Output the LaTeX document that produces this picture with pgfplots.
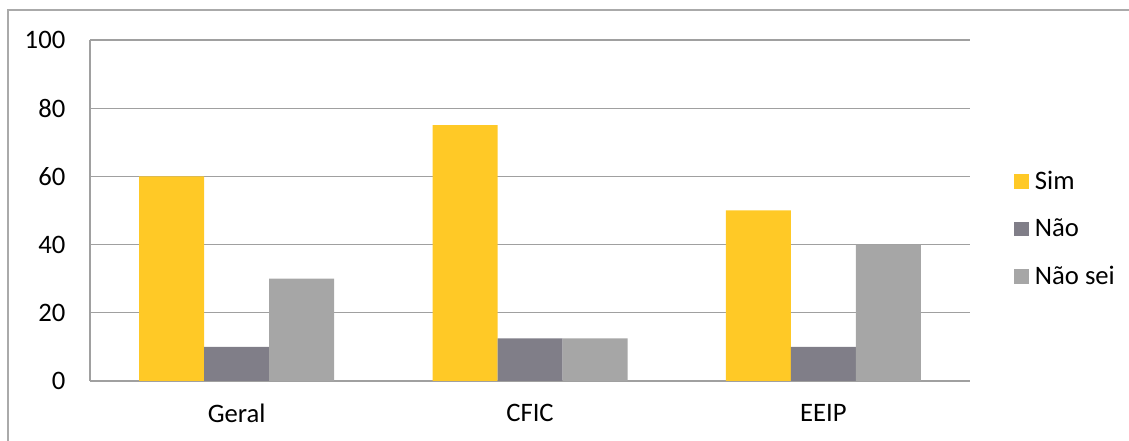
\documentclass[border=0pt]{standalone}
\usepackage{fontspec}
\setmainfont{Carlito}
\usepackage{pgfplots}
\pgfplotsset{compat=1.18}

\definecolor{simcol}{RGB}{255,201,38}
\definecolor{naocol}{RGB}{128,126,136}
\definecolor{naoseicol}{RGB}{166,166,166}
\definecolor{gridcol}{RGB}{160,160,160}
\definecolor{framecol}{RGB}{170,170,170}

\pgfplotstableread{
x  sim   nao   naosei
0  60    10    30
1  75    12.5  12.5
2  50    10    40
}\dados

\begin{document}
\begin{tikzpicture}[x=1pt,y=1pt]
\useasboundingbox (0,0) rectangle (846.75,330.75);
% outer chart frame (top and left edges)
\draw[framecol, line width=1pt] (6,0) -- (6,323.25) -- (846.75,323.25);
\begin{axis}[
  at={(67.5pt,45pt)}, anchor=south west,
  scale only axis,
  width=660pt, height=255.75pt,
  ybar, bar width=48.75pt,
  xmin=-0.5, xmax=2.5,
  ymin=0, ymax=100,
  ytick={0,20,...,100},
  xtick=data,
  xticklabels={Geral,CFIC,EEIP},
  axis lines*=left,
  axis line style={gridcol, line width=0.9pt},
  x axis line style={-}, y axis line style={-},
  ymajorgrids,
  grid style={gridcol, line width=0.9pt},
  major tick length=0pt,
  tick style={draw=none},
  /pgf/number format/assume math mode=true,
  tick label style={font=\fontsize{20}{24}\selectfont, text=black},
  yticklabel style={xshift=-15pt},
  xticklabel style={yshift=-14pt},
  legend style={
    at={(axis description cs:1.05,0.4457)}, anchor=west,
    draw=none, fill=none, inner sep=0pt,
    font=\fontsize{20}{24}\selectfont,
    row sep=16.75pt,
    /tikz/every even column/.append style={column sep=0pt},
  },
  legend cell align=left,
  legend image code/.code={\fill[#1] (0pt,-5.6pt) rectangle (11.25pt,5.6pt); \path (13.5pt,0pt);},
  every axis plot/.append style={draw=none},
]
\addplot[fill=simcol, bar shift=-48.75pt] table[x=x,y=sim] {\dados};
\addplot[fill=naocol, bar shift=0pt] table[x=x,y=nao] {\dados};
\addplot[fill=naoseicol, bar shift=48.75pt] table[x=x,y=naosei] {\dados};
\legend{Sim,Não,Não sei}
\end{axis}
\end{tikzpicture}
\end{document}
